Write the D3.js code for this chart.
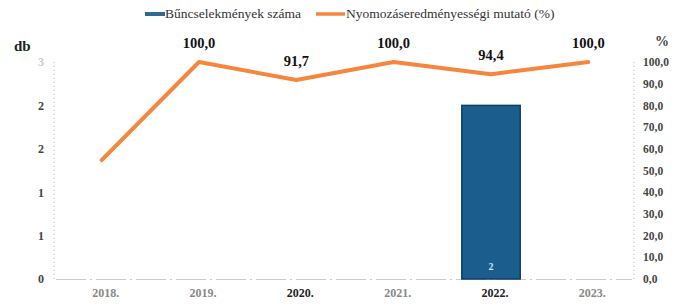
<!DOCTYPE html>
<html>
<head>
<meta charset="utf-8">
<script src="https://cdn.jsdelivr.net/npm/d3@7"></script>
<style>
  body { margin: 0; background: #fff; }
</style>
</head>
<body>
<div class="wrapper"></div>
<script>
var years = ["2018.", "2019.", "2020.", "2021.", "2022.", "2023."];
var crimes = [0, 0, 0, 0, 2, 0];
var rate = [54.8, 100.0, 91.7, 100.0, 94.4, 100.0];
var rateLabels = [null, "100,0", "91,7", "100,0", "94,4", "100,0"];
var leftTicks = [0, 0.5, 1, 1.5, 2, 2.5];
var rightTicks = [0, 10, 20, 30, 40, 50, 60, 70, 80, 90, 100];

var serif = "'Liberation Serif', 'DejaVu Serif', serif";

var width = 676, height = 306;
var svg = d3.select(".wrapper").append("svg")
  .attr("width", width)
  .attr("height", height);

var x = d3.scaleBand().domain(years).range([53, 637]).paddingInner(0.4).paddingOuter(0.2);
var xc = function(d) { return x(d) + x.bandwidth() / 2; };
var yL = d3.scaleLinear().domain([0, 2.5]).range([279, 62]);
var yR = d3.scaleLinear().domain([0, 100]).range([279, 62]);

// dotted axis lines
[54, 634].forEach(function(px) {
  svg.append("line")
    .attr("x1", px).attr("x2", px).attr("y1", 62).attr("y2", 279)
    .attr("stroke", "#bbb").attr("stroke-dasharray", "1,3");
});
// baseline
svg.append("line")
  .attr("x1", 56).attr("x2", 632).attr("y1", yL(0) + 0.5).attr("y2", yL(0) + 0.5)
  .attr("stroke", "#ccc").attr("stroke-dasharray", "30,4,2,4");

// left axis
var left = svg.append("g").attr("transform", "translate(47,0)")
  .call(d3.axisLeft(yL).tickValues(leftTicks).tickSize(0).tickFormat(function(d) { return Math.round(d + 0.001); }));
left.select(".domain").remove();
left.selectAll("text").style("font-family", serif).attr("font-size", 12).attr("font-weight", "bold").attr("fill", "#444");
left.selectAll(".tick").filter(function(d) { return d === 2.5; }).select("text").attr("fill", "#ccc");

// right axis
var right = svg.append("g").attr("transform", "translate(640,0)")
  .call(d3.axisRight(yR).tickValues(rightTicks).tickSize(0).tickFormat(function(d) { return d3.format(".1f")(d).replace(".", ","); }));
right.select(".domain").remove();
right.selectAll("text").style("font-family", serif).attr("font-size", 11.5).attr("font-weight", "bold").attr("fill", "#444");

// x labels
svg.append("g").selectAll("text")
  .data(years)
  .enter().append("text")
    .style("font-family", serif)
    .attr("x", function(d) { return xc(d) + 4; })
    .attr("y", 297)
    .attr("text-anchor", "middle")
    .attr("font-size", 12)
    .attr("font-weight", "bold")
    .attr("fill", function(d, i) { return (i === 2 || i === 4) ? "#222" : "#888"; })
    .text(function(d) { return d; });

// axis titles
svg.append("text").style("font-family", serif).attr("x", 14).attr("y", 51).attr("font-size", 15).attr("font-weight", "bold").attr("fill", "#222").text("db");
svg.append("text").style("font-family", serif).attr("x", 655).attr("y", 46).attr("font-size", 14).attr("font-weight", "bold").attr("fill", "#444").text("%");

// bars
svg.append("g").selectAll("rect")
  .data(crimes)
  .enter().append("rect")
    .attr("x", function(d, i) { return x(years[i]); })
    .attr("y", function(d) { return yL(d); })
    .attr("width", x.bandwidth())
    .attr("height", function(d) { return yL(0) - yL(d); })
    .attr("fill", "#1b5e8e")
    .attr("stroke", "#0f3f63")
    .attr("stroke-width", 1.5);

svg.append("g").selectAll("text")
  .data(crimes.map(function(d, i) { return {v: d, year: years[i]}; }).filter(function(d) { return d.v > 0; }))
  .enter().append("text")
    .style("font-family", serif)
    .attr("x", function(d) { return xc(d.year); })
    .attr("y", 270)
    .attr("text-anchor", "middle")
    .attr("font-size", 10)
    .attr("font-weight", "bold")
    .attr("fill", "#cfe3f2")
    .text(function(d) { return d.v; });

// line
var line = d3.line()
  .x(function(d, i) { return xc(years[i]); })
  .y(function(d) { return yR(d); });
svg.append("path")
  .datum(rate)
  .attr("d", line)
  .attr("fill", "none")
  .attr("stroke", "#f5863c")
  .attr("stroke-width", 4)
  .attr("stroke-linecap", "round")
  .attr("stroke-linejoin", "round");

svg.append("g").selectAll("text")
  .data(rate)
  .enter().append("text")
    .style("font-family", serif)
    .attr("x", function(d, i) { return xc(years[i]); })
    .attr("y", function(d) { return yR(d) - 14; })
    .attr("text-anchor", "middle")
    .attr("font-size", 14.5)
    .attr("font-weight", "bold")
    .attr("fill", "#111")
    .text(function(d, i) { return rateLabels[i]; });

// legend
var lg = svg.append("g").style("font-family", serif).attr("font-size", 13.5).attr("fill", "#333");
lg.append("rect").attr("x", 145).attr("y", 12).attr("width", 20).attr("height", 4).attr("fill", "#2e6a92");
lg.append("text").attr("x", 165).attr("y", 18).text("Bűncselekmények száma");
lg.append("line").attr("x1", 316).attr("x2", 345).attr("y1", 14).attr("y2", 14)
  .attr("stroke", "#f5863c").attr("stroke-width", 3.5);
lg.append("text").attr("x", 346).attr("y", 18).text("Nyomozáseredményességi mutató (%)");
</script>
</body>
</html>
